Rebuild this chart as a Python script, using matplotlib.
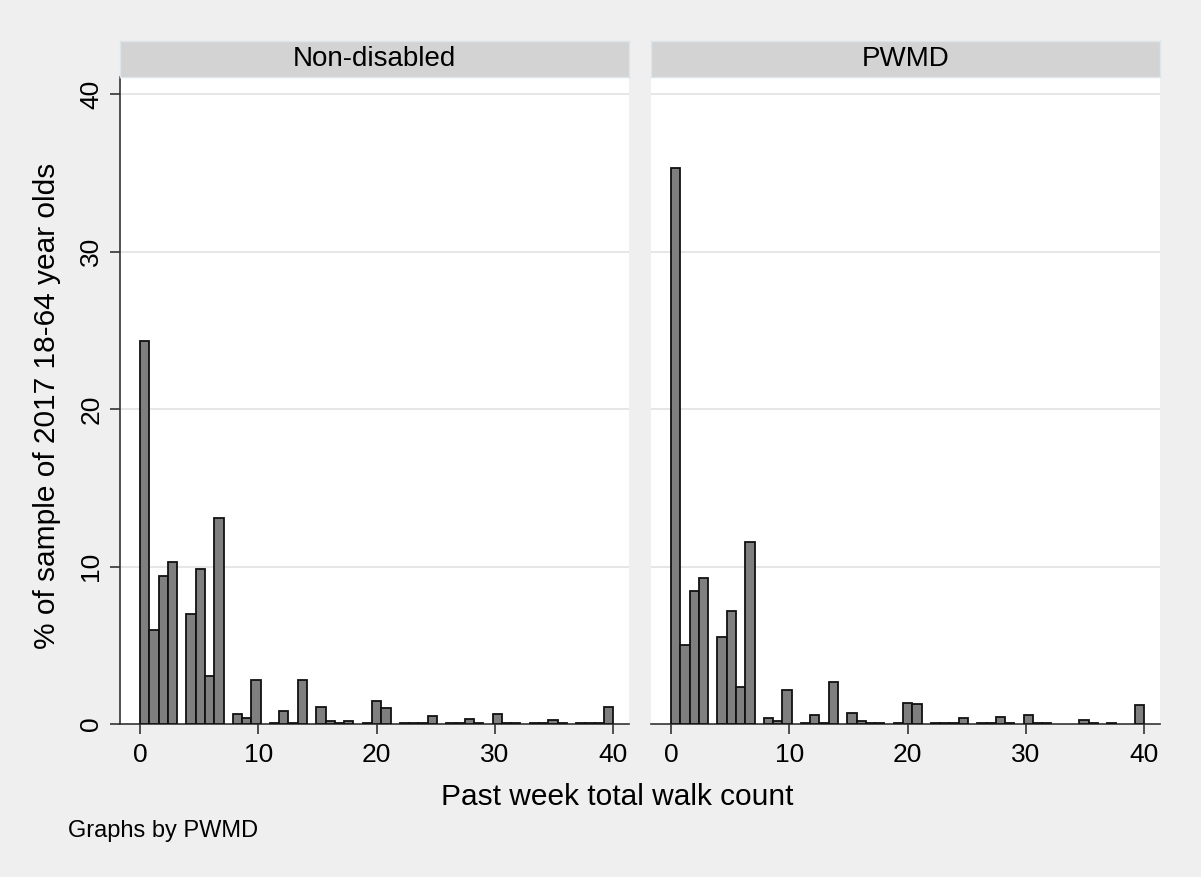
import numpy as np
import matplotlib
matplotlib.use("Agg")
from matplotlib import pyplot as plt

# past week walk count (integer values) and % of sample at each value
walk_count = np.arange(41)
pct_nondisabled = [24.3, 5.95, 9.4, 10.3, 7.0, 9.85, 3.05, 13.1, 0.65, 0.36,
                   2.8, 0.08, 0.84, 0.05, 2.8, 1.06, 0.19, 0.08, 0.17, 0.06,
                   1.47, 0.99, 0.08, 0.06, 0.08, 0.53, 0.07, 0.07, 0.3, 0.06,
                   0.63, 0.06, 0.06, 0.06, 0.06, 0.25, 0.06, 0.06, 0.06, 0.06,
                   1.1]
pct_pwmd = [35.3, 5.0, 8.42, 9.3, 5.55, 7.2, 2.37, 11.56, 0.4, 0.17,
            2.18, 0.05, 0.57, 0.05, 2.67, 0.72, 0.21, 0.05, 0.08, 0.04,
            1.35, 1.27, 0.05, 0.05, 0.05, 0.4, 0.05, 0.05, 0.46, 0.05,
            0.55, 0.05, 0.05, 0.0, 0.0, 0.27, 0.05, 0.05, 0.0, 0.0,
            1.2]
panels = ["Non-disabled", "PWMD"]
xticks = [0, 10, 20, 30, 40]
yticks = [0, 10, 20, 30, 40]
n_bins = 51

plt.rcParams['font.family'] = ['Liberation Sans', 'DejaVu Sans']
W, H = 1201, 877
bg = '#efefef'
fig = plt.figure(figsize=(W / 100, H / 100), dpi=100, facecolor=bg)

lefts = [120, 651]
pw = 509
top, bottom = 77, 724

for i, (name, pct) in enumerate(zip(panels, [pct_nondisabled, pct_pwmd])):
    x0 = lefts[i]
    ax = fig.add_axes([x0 / W, (H - bottom) / H, pw / W, (bottom - top) / H])
    ax.set_facecolor('white')
    heights, edges, patches = ax.hist(walk_count, bins=n_bins, range=(0, 40),
                                      weights=pct, color='#7f7f7f',
                                      edgecolor='#111111', linewidth=1.3,
                                      zorder=3)
    for h, p in zip(heights, patches):
        if h <= 0:
            p.set_visible(False)
    ax.set_xlim(-1.69, 41.33)
    ax.set_ylim(0, 41.08)
    for y in yticks[1:]:
        ax.axhline(y, color='#e6e6e6', linewidth=1.4, zorder=1)
    for s in ['top', 'right']:
        ax.spines[s].set_visible(False)
    ax.spines['bottom'].set_color('#333333')
    ax.spines['bottom'].set_linewidth(1.2)
    ax.set_xticks(xticks)
    ax.tick_params(axis='x', direction='out', length=7, width=1.2,
                   color='#333333', labelsize=19, pad=7)
    if i == 0:
        ax.spines['left'].set_color('#333333')
        ax.spines['left'].set_linewidth(1.2)
        ax.set_yticks(yticks)
        ax.tick_params(axis='y', direction='out', length=7, width=1.2,
                       color='#333333', labelsize=19, pad=5)
        for lab in ax.get_yticklabels():
            lab.set_rotation(90)
            lab.set_va('center')
    else:
        ax.spines['left'].set_visible(False)
        ax.set_yticks([])

    # panel header strip
    hx = fig.add_axes([x0 / W, (H - 77) / H, pw / W, 36 / H])
    hx.set_facecolor('#d3d3d3')
    for s in hx.spines.values():
        s.set_color('#dce5ea')
        s.set_linewidth(1.0)
    hx.set_xticks([])
    hx.set_yticks([])
    hx.text(0.5, 0.5, name, ha='center', va='center', fontsize=20,
            transform=hx.transAxes)

fig.text(47 / W, 1 - 406 / H, '% of sample of 2017 18-64 year olds',
         rotation=90, ha='center', va='center', fontsize=21.5)
fig.text(617 / W, 1 - 797 / H, 'Past week total walk count', ha='center',
         va='center', fontsize=21.5)
fig.text(68 / W, 1 - 831 / H, 'Graphs by PWMD', ha='left', va='center',
         fontsize=17)

fig.savefig('out.png', dpi=100, facecolor=bg)
